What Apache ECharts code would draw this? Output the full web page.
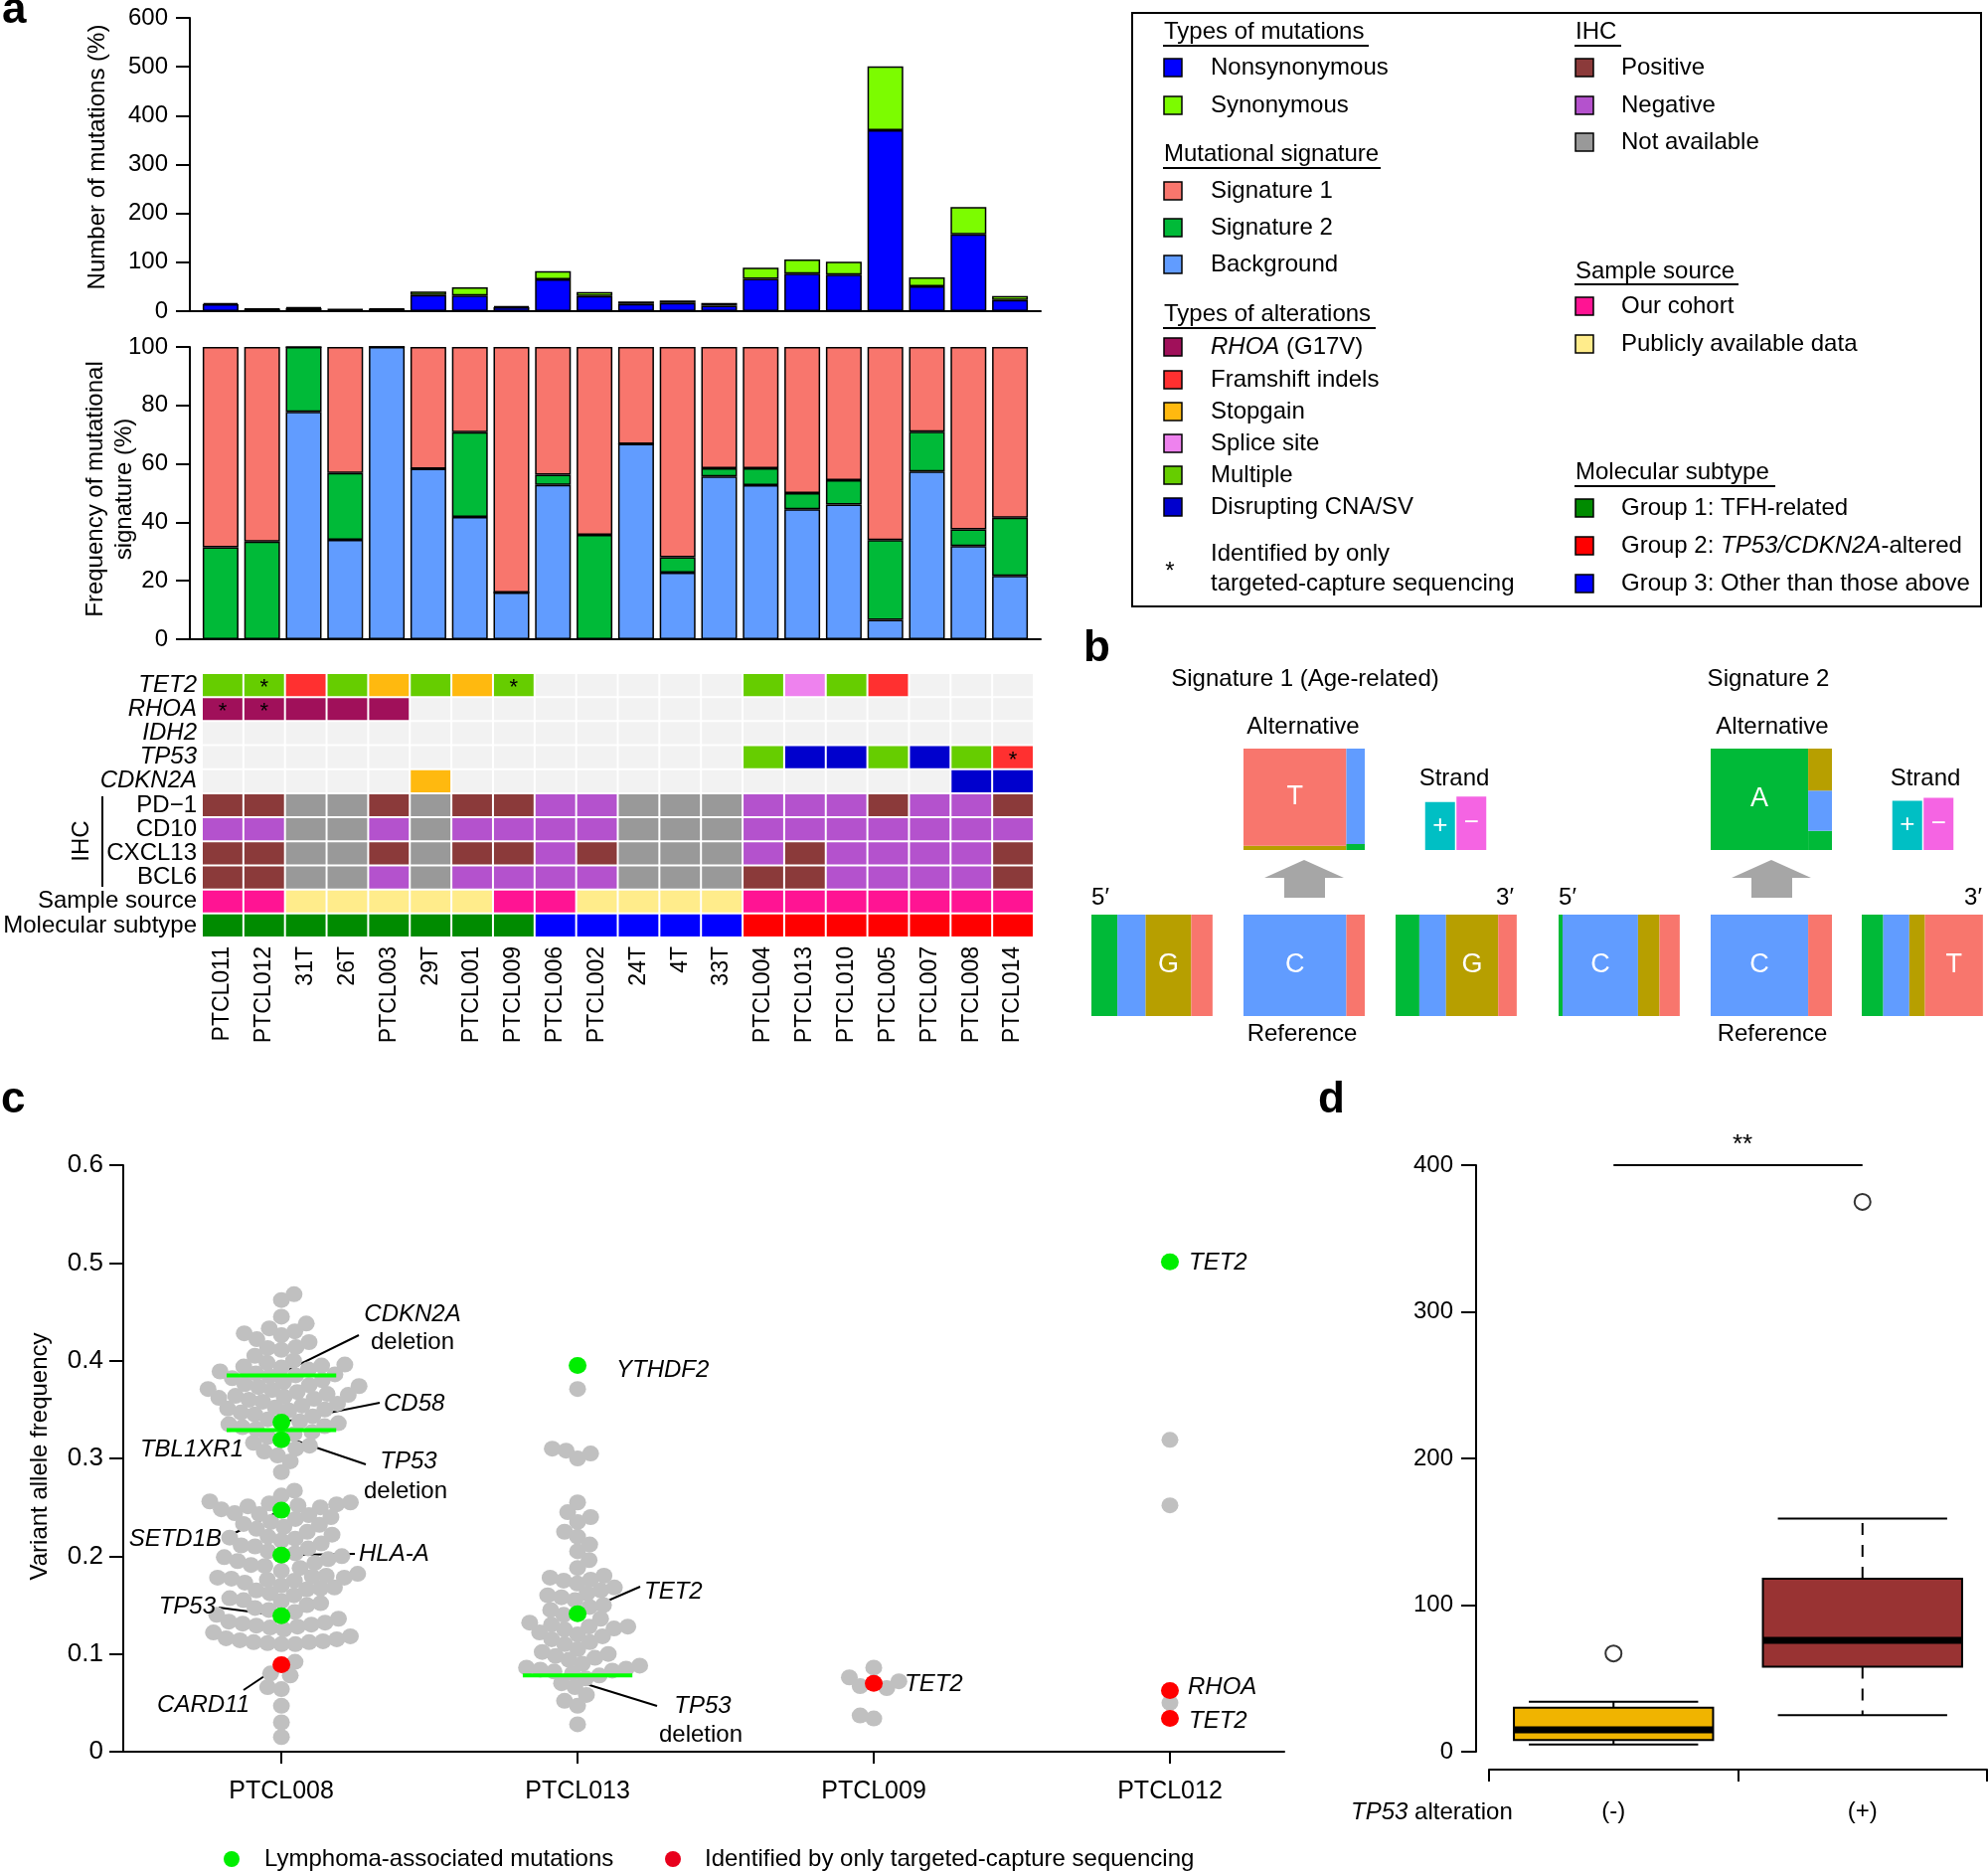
<!DOCTYPE html>
<html><head><meta charset="utf-8">
<script src="https://cdn.jsdelivr.net/npm/echarts@6.0.0/dist/echarts.min.js"></script>
<style>html,body{margin:0;padding:0;background:#fff}#chart{width:2000px;height:1882px}</style>
</head><body><div id="chart"></div>
<script>
// ================= DATA =================
// ---- panel a ----
const samples = ['PTCL011','PTCL012','31T','26T','PTCL003','29T','PTCL001','PTCL009','PTCL006','PTCL002','24T','4T','33T','PTCL004','PTCL013','PTCL010','PTCL005','PTCL007','PTCL008','PTCL014'];
const nonsynonymous = [14,4,6,3,4,33,32,8,65,31,15,17,11,66,77,75,370,51,157,23];
const synonymous    = [3,1,2,1,1,7,17,2,17,8,5,5,6,23,29,26,131,18,56,8];
const sigBackground = [0,0,77.8,34,100,58.3,41.8,16,52.8,0,66.8,22.8,55.7,52.7,44.5,46.1,6.6,57.4,31.9,21.7];
const sigSignature2 = [31.5,33.4,22.2,22.9,0,0,29,0,3.5,35.7,0,5.3,2.8,5.8,5.5,8.3,27.3,13.6,5.7,19.9];
const sigSignature1 = [68.5,66.6,0,43.1,0,41.7,29.2,84,43.7,64.3,33.2,71.9,41.5,41.5,50,45.6,66.1,29,62.4,58.4];
const alterationRows = ['TET2','RHOA','IDH2','TP53','CDKN2A','PD\u22121','CD10','CXCL13','BCL6','Sample source','Molecular subtype'];
const geneRows = ['TET2','RHOA','IDH2','TP53','CDKN2A'];
// codes: M multiple, F frameshift, S stopgain, P splice, R RHOA G17V, C CNA/SV, * targeted only
const rowTET2   = ['M','M*','F','M','S','M','S','M*','','','','','','M','P','M','F','','',''];
const rowRHOA   = ['R*','R*','R','R','R','','','','','','','','','','','','','','',''];
const rowIDH2   = ['','','','','','','','','','','','','','','','','','','',''];
const rowTP53   = ['','','','','','','','','','','','','','M','C','C','M','C','M','F*'];
const rowCDKN2A = ['','','','','','S','','','','','','','','','','','','','C','C'];
const rowPD1    = ['+','+','n','n','+','n','+','+','-','-','n','n','n','-','-','-','+','-','-','+'];
const rowCD10   = ['-','-','n','n','-','n','-','-','-','-','n','n','n','-','-','-','-','-','-','-'];
const rowCXCL13 = ['+','+','n','n','+','n','+','+','-','+','n','n','n','-','+','-','-','-','-','+'];
const rowBCL6   = ['+','+','n','n','-','n','-','-','-','-','n','n','n','+','+','-','-','-','-','+'];
const rowSource = ['o','o','p','p','p','p','p','o','o','p','p','p','p','o','o','o','o','o','o','o'];
const rowSubtype= ['1','1','1','1','1','1','1','1','3','3','3','3','3','2','2','2','2','2','2','2'];
// ---- panel b (fractions of A, C, G, T) ----
const sig1Upstream   = [0.214,0.233,0.376,0.176];
const sig1Reference  = [0,0.848,0,0.152];
const sig1Downstream = [0.196,0.220,0.430,0.153];
const sig1AltFromC   = [0,0,0.042,0.958];
const sig1AltFromT   = [0.059,0.941,0,0];
const sig1Strand     = [0.474,0.526];
const sig2Upstream   = [0.033,0.622,0.177,0.167];
const sig2Reference  = [0,0.804,0,0.196];
const sig2Downstream = [0.177,0.215,0.129,0.478];
const sig2AltFromC   = [1,0,0,0];
const sig2AltFromT   = [0.189,0.397,0.414,0];
const sig2Strand     = [0.485,0.515];
const strandNames = ['+','\u2212'];
// ---- panel c ----
const vafSamples = ['PTCL008','PTCL013','PTCL009','PTCL012'];
const vafPTCL008 = [0.468,0.462,0.445,0.438,0.433,0.430,0.428,0.426,0.422,0.419,0.414,0.413,0.411,0.405,0.400,0.398,0.396,0.395,0.394,0.393,0.391,0.389,0.387,0.386,0.385,0.384,0.382,0.380,0.378,0.376,0.375,0.374,0.373,0.371,0.370,0.368,0.366,0.365,0.364,0.363,0.362,0.361,0.360,0.358,0.356,0.354,0.352,0.351,0.350,0.349,0.347,0.345,0.343,0.340,0.338,0.336,0.335,0.333,0.332,0.330,0.327,0.325,0.322,0.316,0.313,0.310,0.307,0.303,0.297,0.286,
 0.267,0.262,0.256,0.255,0.254,0.253,0.252,0.251,0.250,0.248,0.244,0.243,0.242,0.240,0.238,0.235,0.233,0.232,0.230,0.228,0.225,0.222,0.220,0.219,0.218,0.216,0.213,0.211,0.210,0.208,0.205,0.203,0.200,0.199,0.197,0.195,0.193,0.191,0.190,0.188,0.185,0.182,0.180,0.179,0.178,0.178,0.177,0.176,0.175,0.173,0.170,0.168,0.167,0.166,0.165,0.162,0.160,0.157,0.155,0.154,0.152,0.150,0.147,0.145,0.143,0.140,0.136,0.133,0.132,0.131,0.130,0.129,0.128,0.127,0.125,0.122,0.118,0.116,0.115,0.114,0.113,0.112,0.112,0.111,0.110,0.110,0.092,0.080,0.078,0.066,0.064,0.047,0.030,0.015];
const vafPTCL013 = [0.371,0.310,0.308,0.305,0.300,0.255,0.245,0.240,0.235,0.225,0.220,0.212,0.205,0.196,0.188,0.180,0.178,0.176,0.175,0.172,0.168,0.165,0.162,0.160,0.158,0.155,0.150,0.148,0.145,0.140,0.136,0.132,0.130,0.128,0.128,0.126,0.125,0.122,0.120,0.118,0.115,0.112,0.110,0.105,0.102,0.100,0.098,0.096,0.094,0.090,0.088,0.086,0.085,0.084,0.083,0.082,0.080,0.078,0.075,0.070,0.066,0.058,0.052,0.047,0.028];
const vafPTCL009 = [0.086,0.076,0.072,0.067,0.065,0.037,0.034];
const vafPTCL012 = [0.319,0.252,0.050];
const lymphomaMutations = [[0,0.337,'CD58'],[0,0.319,'TBL1XR1'],[0,0.247,'SETD1B'],[0,0.201,'HLA-A'],[0,0.139,'TP53'],[1,0.395,'YTHDF2'],[1,0.141,'TET2'],[3,0.501,'TET2']];
const targetedOnly = [[0,0.089,'CARD11'],[2,0.070,'TET2'],[3,0.0625,'RHOA'],[3,0.034,'TET2']];
const deletionLevels = [[0,0.385,'CDKN2A'],[0,0.329,'TP53'],[1,0.078,'TP53']];
// ---- panel d ----
const tp53Groups = ['(-)','(+)'];
const boxStats = [[5,8,15,30,34],[25,58,76,118,159]]; // min, Q1, median, Q3, max
const boxOutliers = [[0,67],[1,375]];
const sigLevel = 400;

// ================= STYLE / LAYOUT =================
const F = "'Liberation Sans', Arial, Helvetica, sans-serif";
const K = '#000';
const cellColors = {'':'#f2f2f2',M:'#66cd00',F:'#ff3030',S:'#ffb90f',P:'#ee82ee',R:'#a0105a',C:'#0000cd','+':'#8b3a3a','-':'#b452cd',n:'#999999',o:'#ff1493',p:'#ffec8b','1':'#008b00','2':'#ff0000','3':'#0000ff'};
const baseColors = ['#00ba38','#619cff','#b79f00','#f8766d'];
const baseLetters = ['A','C','G','T'];
const boxColors = ['#f0b400','#993333'];
const swarmSpacing = [14,14,14,12];
const axLine = {show:true, onZero:false, lineStyle:{color:K, width:2}};
const grids=[], xAxes=[], yAxes=[], series=[];
function addGrid(g){ grids.push(Object.assign({outerBoundsMode:'none', containLabel:false, show:false}, g)); return grids.length-1; }

// stacked bar block: one grid carrying the visible axes, one grid carrying the bars
function stackedBars(top, height, yMax, yInterval, layers, stackName){
  const ga = addGrid({left:191, top, width:856, height});
  xAxes.push({type:'value', gridIndex:ga, min:0, max:1, axisLine:axLine, axisTick:{show:false}, axisLabel:{show:false}, splitLine:{show:false}});
  yAxes.push({type:'value', gridIndex:ga, min:0, max:yMax, interval:yInterval, axisLine:axLine, axisTick:{show:true, length:14, lineStyle:{color:K,width:2}}, axisLabel:{color:K, fontSize:24, fontFamily:F, margin:22}, splitLine:{show:false}});
  const gb = addGrid({left:201, top, width:836, height});
  xAxes.push({type:'category', gridIndex:gb, data:samples, show:false});
  yAxes.push({type:'value', gridIndex:gb, min:0, max:yMax, show:false});
  layers.forEach(([arr,col])=>{
    series.push({type:'bar', xAxisIndex:gb, yAxisIndex:gb, stack:stackName, barWidth:36, data:arr, itemStyle:{color:col, borderColor:K, borderWidth:1.5}});
  });
}
stackedBars(18, 295, 600, 100, [[nonsynonymous,'#0000ff'],[synonymous,'#7cfc00']], 'mut');
stackedBars(349, 294, 100, 20, [[sigBackground,'#619cff'],[sigSignature2,'#00ba38'],[sigSignature1,'#f8766d']], 'sig');

// ---------- panel a: heatmap ----------
const gHeat = addGrid({left:203, top:677, width:837, height:266});
xAxes.push({type:'category', gridIndex:gHeat, data:samples, axisLine:{show:false}, axisTick:{show:false}, axisLabel:{interval:0, rotate:90, fontSize:23, fontFamily:F, color:K, margin:9}, splitLine:{show:false}});
yAxes.push({type:'category', gridIndex:gHeat, data:alterationRows, inverse:true, axisLine:{show:false}, axisTick:{show:false}, splitLine:{show:false},
  axisLabel:{interval:0, fontSize:24, fontFamily:F, color:K, margin:5, formatter:v=>geneRows.includes(v)?'{i|'+v+'}':v, rich:{i:{fontStyle:'italic', fontSize:24, fontFamily:F, color:K}}}});
const heatRows = [rowTET2,rowRHOA,rowIDH2,rowTP53,rowCDKN2A,rowPD1,rowCD10,rowCXCL13,rowBCL6,rowSource,rowSubtype];
const heatData=[], heatFill=[];
heatRows.forEach((row,r)=>row.forEach((code,c)=>{ const star=code.endsWith('*'); heatData.push([c,r,star?1:0]); heatFill.push(cellColors[code.replace('*','')]); }));
series.push({type:'custom', xAxisIndex:gHeat, yAxisIndex:gHeat, encode:{x:0,y:1}, data:heatData,
  renderItem(params, api){
    const c = api.coord([api.value(0), api.value(1)]); const s = api.size([1,1]);
    const ch=[{type:'rect', shape:{x:c[0]-s[0]/2+1, y:c[1]-s[1]/2+1, width:s[0]-2, height:s[1]-2}, style:{fill:heatFill[params.dataIndex]}}];
    if (api.value(2)) ch.push({type:'text', x:c[0], y:c[1]+3, style:{text:'*', fontSize:22, fontFamily:F, fill:K, align:'center', verticalAlign:'middle'}});
    return {type:'group', children:ch};
  }});

// ---------- panel b ----------
function argmax(a){ let m=0; a.forEach((v,i)=>{ if(v>a[m]) m=i; }); return m; }
function flankCells(fr){ let x=0; const out=[]; const m=argmax(fr); fr.forEach((f,i)=>{ if(f>0) out.push([x,x+f,0,1,i,i===m?1:0]); x+=f; }); return out; }
function altCells(refFr, altByRef){ let x=0; const out=[]; const rm=argmax(refFr);
  refFr.forEach((w,ri)=>{ if(w>0){ let y=0; const alt=altByRef[ri]; const am=argmax(alt); alt.forEach((h,ai)=>{ if(h>0) out.push([x,x+w,y,y+h,ai,(ri===rm&&ai===am)?1:0]); y+=h; }); } x+=w; });
  return out; }
function mosaicRender(params, api){
  const p0 = api.coord([api.value(0), api.value(3)]); const p1 = api.coord([api.value(1), api.value(2)]);
  const bi = api.value(4);
  const ch=[{type:'rect', shape:{x:p0[0], y:p0[1], width:p1[0]-p0[0], height:p1[1]-p0[1]}, style:{fill:baseColors[bi]}}];
  if (api.value(5)) ch.push({type:'text', x:(p0[0]+p1[0])/2, y:(p0[1]+p1[1])/2, style:{text:baseLetters[bi], fill:'#fff', fontSize:27, fontFamily:F, align:'center', verticalAlign:'middle'}});
  return {type:'group', children:ch};
}
const bBlocks = [
  [1098,920,flankCells(sig1Upstream)],[1251,920,flankCells(sig1Reference)],[1404,920,flankCells(sig1Downstream)],
  [1251,753,altCells(sig1Reference,[null,sig1AltFromC,null,sig1AltFromT])],
  [1568,920,flankCells(sig2Upstream)],[1721,920,flankCells(sig2Reference)],[1873,920,flankCells(sig2Downstream)],
  [1721,753,altCells(sig2Reference,[null,sig2AltFromC,null,sig2AltFromT])]
];
bBlocks.forEach(([l,t,cells])=>{
  const gi = addGrid({left:l, top:t, width:122, height:102});
  xAxes.push({type:'value', gridIndex:gi, min:0, max:1, show:false});
  yAxes.push({type:'value', gridIndex:gi, min:0, max:1, show:false});
  series.push({type:'custom', xAxisIndex:gi, yAxisIndex:gi, encode:{x:[0,1], y:[2,3]}, data:cells, renderItem:mosaicRender});
});
[[1433,sig1Strand],[1903,sig2Strand]].forEach(([l,vals])=>{
  const gi = addGrid({left:l, top:753, width:63, height:102});
  xAxes.push({type:'category', gridIndex:gi, data:strandNames, show:false});
  yAxes.push({type:'value', gridIndex:gi, min:0, max:1, show:false});
  series.push({type:'bar', xAxisIndex:gi, yAxisIndex:gi, barWidth:30, data:vals.map((v,i)=>({value:v, itemStyle:{color:i===0?'#00bfc4':'#f564e3'}})),
    label:{show:true, position:'inside', formatter:p=>p.name, color:'#fff', fontSize:26, fontFamily:F}});
});

// ---------- panel c ----------
const C_GRID = {left:124, top:1172, width:1168, height:590};
const cXMin=-0.534, cXMax=3.386, cYMax=0.6;
const gC = addGrid(C_GRID);
xAxes.push({type:'value', gridIndex:gC, min:cXMin, max:cXMax, axisLine:axLine, splitLine:{show:false},
  axisTick:{show:true, length:12, customValues:[0,1,2,3], lineStyle:{color:K,width:2}},
  axisLabel:{show:true, customValues:[0,1,2,3], formatter:v=>vafSamples[Math.round(v)], fontSize:25, fontFamily:F, color:K, margin:28}});
yAxes.push({type:'value', gridIndex:gC, min:0, max:cYMax, interval:0.1, axisLine:axLine, splitLine:{show:false},
  axisTick:{show:true, length:14, lineStyle:{color:K,width:2}},
  axisLabel:{formatter:v=>v===0?'0':v.toFixed(1), fontSize:26, fontFamily:F, color:K, margin:20}});
const pxPerX = C_GRID.width/(cXMax-cXMin), pxPerY = C_GRID.height/cYMax;
function swarm(points, d){
  const order = points.map((p,i)=>i).sort((a,b)=>(points[a].pri-points[b].pri)||(points[a].v-points[b].v));
  const placed=[], out=new Array(points.length);
  order.forEach((i,k)=>{
    const y = points[i].v*pxPerY;
    const near = placed.filter(p=>Math.abs(p.y-y)<d);
    const cands=[0];
    near.forEach(p=>{ const dx=Math.sqrt(d*d-(p.y-y)*(p.y-y)); cands.push(p.x+dx, p.x-dx); });
    const pref = k%2 ? 1 : -1;
    cands.sort((a,b)=>{ const c=Math.abs(a)-Math.abs(b); if(Math.abs(c)>1e-9) return c; return Math.sign(a)===pref?-1:1; });
    const ok = c=>near.every(p=>(p.x-c)*(p.x-c)+(p.y-y)*(p.y-y) >= d*d-1e-6);
    const x = cands.find(ok); out[i]= x===undefined?0:x; placed.push({x:out[i], y});
  });
  return out;
}
const grayPts=[], greenPts=[], redPts=[];
[vafPTCL008,vafPTCL013,vafPTCL009,vafPTCL012].forEach((gray,cat)=>{
  const pts=[];
  lymphomaMutations.forEach((m,j)=>{ if(m[0]===cat) pts.push({v:m[1], pri:0, kind:'g', j}); });
  targetedOnly.forEach((m,j)=>{ if(m[0]===cat) pts.push({v:m[1], pri:0, kind:'r', j}); });
  gray.forEach(v=>pts.push({v, pri:1, kind:'x'}));
  const off = swarm(pts, swarmSpacing[cat]);
  pts.forEach((p,i)=>{ const x = cat + off[i]/pxPerX;
    if(p.kind==='x') grayPts.push([x,p.v]); else if(p.kind==='g') greenPts[p.j]=[x,p.v]; else redPts[p.j]=[x,p.v]; });
});
series.push({type:'scatter', xAxisIndex:gC, yAxisIndex:gC, symbol:'circle', symbolSize:[17,16], data:grayPts, itemStyle:{color:'#c0c0c0', opacity:1}, z:2});
series.push({type:'custom', xAxisIndex:gC, yAxisIndex:gC, encode:{x:0,y:1}, data:deletionLevels.map(d=>[d[0],d[1]]), z:3,
  renderItem(params, api){ const a=api.coord([api.value(0)-0.185, api.value(1)]), b=api.coord([api.value(0)+0.185, api.value(1)]);
    return {type:'line', shape:{x1:a[0],y1:a[1],x2:b[0],y2:b[1]}, style:{stroke:'#00ff00', lineWidth:4}}; }});
series.push({type:'scatter', xAxisIndex:gC, yAxisIndex:gC, symbol:'circle', symbolSize:[18,17], data:greenPts, itemStyle:{color:'#00ee00', opacity:1}, z:4});
series.push({type:'scatter', xAxisIndex:gC, yAxisIndex:gC, symbol:'circle', symbolSize:[18,17], data:redPts, itemStyle:{color:'#ff0000', opacity:1}, z:4});

// ---------- panel d ----------
const gD = addGrid({left:1498, top:1172, width:501, height:590});
xAxes.push({type:'category', gridIndex:gD, data:tp53Groups, offset:18, axisLine:{show:true, onZero:false, lineStyle:{color:K,width:2}}, axisTick:{show:true, length:12, lineStyle:{color:K,width:2}}, axisLabel:{fontSize:24, fontFamily:F, color:K, margin:30}, splitLine:{show:false}});
yAxes.push({type:'value', gridIndex:gD, min:0, max:400, interval:100, offset:13, axisLine:axLine, axisTick:{show:true, length:15, lineStyle:{color:K,width:2}}, axisLabel:{fontSize:24, fontFamily:F, color:K, margin:23}, splitLine:{show:false}});
series.push({type:'custom', xAxisIndex:gD, yAxisIndex:gD, encode:{x:0, y:[1,2,3,4,5]}, data:boxStats.map((s,i)=>[i].concat(s)),
  renderItem(params, api){
    const cat=api.value(0); const w=api.size([1,0])[0]*0.8; const cw=w*0.85;
    const cx=api.coord([cat,0])[0]; const y=k=>api.coord([cat, api.value(k)])[1];
    const ls={stroke:K, lineWidth:2};
    return {type:'group', children:[
      {type:'line', shape:{x1:cx,y1:y(4),x2:cx,y2:y(5)}, style:Object.assign({lineDash:[12,10]},ls)},
      {type:'line', shape:{x1:cx,y1:y(2),x2:cx,y2:y(1)}, style:Object.assign({lineDash:[12,10]},ls)},
      {type:'line', shape:{x1:cx-cw/2,y1:y(5),x2:cx+cw/2,y2:y(5)}, style:ls},
      {type:'line', shape:{x1:cx-cw/2,y1:y(1),x2:cx+cw/2,y2:y(1)}, style:ls},
      {type:'rect', shape:{x:cx-w/2,y:y(4),width:w,height:y(2)-y(4)}, style:{fill:boxColors[params.dataIndex], stroke:K, lineWidth:2}},
      {type:'line', shape:{x1:cx-w/2,y1:y(3),x2:cx+w/2,y2:y(3)}, style:{stroke:K, lineWidth:7}}
    ]};
  }});
series.push({type:'scatter', xAxisIndex:gD, yAxisIndex:gD, symbol:'emptyCircle', symbolSize:16, data:boxOutliers, itemStyle:{color:K, borderWidth:2.5}});
series.push({type:'line', xAxisIndex:gD, yAxisIndex:gD, symbol:'none', clip:false, data:[[0,sigLevel],[1,sigLevel]], lineStyle:{color:K, width:2}});

// ================= RENDER =================
const chart = echarts.init(document.getElementById('chart'), null, {renderer:'canvas', width:2000, height:1882});
chart.setOption({animation:false, backgroundColor:'#fff', grid:grids, xAxis:xAxes, yAxis:yAxes, series:series});

// ---------- annotations / legend (graphic) ----------
const G=[];
const RICH = {i:{fontStyle:'italic', fontSize:24, fontFamily:F, fill:K, color:K}, n:{fontSize:24, fontFamily:F, fill:K, color:K}};
function txt(x,y,text,o={}){ G.push({type:'text', x, y, rotation:o.rot||0, silent:true, z:10,
  style:{text, fontSize:o.size||24, fontFamily:F, fontStyle:o.italic?'italic':'normal', fontWeight:o.bold?'bold':'normal', fill:o.color||K, align:o.align||'left', verticalAlign:'middle', rich:o.rich}}); }
function seg(x1,y1,x2,y2,w,z){ G.push({type:'line', silent:true, z:z===undefined?10:z, shape:{x1,y1,x2,y2}, style:{stroke:K, lineWidth:w||2}}); }
function sq(cx,cy,fill){ G.push({type:'rect', silent:true, z:10, shape:{x:cx-9,y:cy-9,width:18,height:18}, style:{fill, stroke:K, lineWidth:1.5}}); }
// panel letters
txt(2,11,'a',{size:44,bold:true}); txt(1090,653,'b',{size:44,bold:true}); txt(1,1107,'c',{size:44,bold:true}); txt(1326,1107,'d',{size:44,bold:true});
// panel a axis titles
txt(98,158,'Number of mutations (%)',{rot:Math.PI/2, align:'center'});
txt(96,492,'Frequency of mutational',{rot:Math.PI/2, align:'center'});
txt(125,492,'signature (%)',{rot:Math.PI/2, align:'center'});
seg(103,801,103,892,2); txt(82,846,'IHC',{rot:Math.PI/2, align:'center'});
// legend box
G.push({type:'rect', silent:true, z:10, shape:{x:1139,y:13,width:854,height:597}, style:{fill:null, stroke:K, lineWidth:2}});
const LX=1171, LT=1218, RX=1585, RT=1631;
txt(LX,32,'Types of mutations'); seg(1170,46,1377,46);
sq(1180,68,'#0000ff'); txt(LT,68,'Nonsynonymous');
sq(1180,106,'#7cfc00'); txt(LT,106,'Synonymous');
txt(LX,155,'Mutational signature'); seg(1170,169,1389,169);
sq(1180,192,'#f8766d'); txt(LT,192,'Signature 1');
sq(1180,229,'#00ba38'); txt(LT,229,'Signature 2');
sq(1180,266,'#619cff'); txt(LT,266,'Background');
txt(LX,316,'Types of alterations'); seg(1170,330,1384,330);
sq(1180,349,cellColors.R); txt(LT,349,'{i|RHOA}{n| (G17V)}',{rich:RICH});
sq(1180,382,cellColors.F); txt(LT,382,'Framshift indels');
sq(1180,414,cellColors.S); txt(LT,414,'Stopgain');
sq(1180,446,cellColors.P); txt(LT,446,'Splice site');
sq(1180,478,cellColors.M); txt(LT,478,'Multiple');
sq(1180,510,cellColors.C); txt(LT,510,'Disrupting CNA/SV');
txt(1177,575,'*',{align:'center'}); txt(LT,557,'Identified by only'); txt(LT,587,'targeted-capture sequencing');
txt(RX,32,'IHC'); seg(1584,46,1631,46);
sq(1594,68,cellColors['+']); txt(RT,68,'Positive');
sq(1594,106,cellColors['-']); txt(RT,106,'Negative');
sq(1594,143,cellColors.n); txt(RT,143,'Not available');
txt(RX,273,'Sample source'); seg(1584,286,1749,286);
sq(1594,308,cellColors.o); txt(RT,308,'Our cohort');
sq(1594,346,cellColors.p); txt(RT,346,'Publicly available data');
txt(RX,475,'Molecular subtype'); seg(1584,489,1786,489);
sq(1594,511,cellColors['1']); txt(RT,511,'Group 1: TFH-related');
sq(1594,549,cellColors['2']); txt(RT,549,'{n|Group 2: }{i|TP53/CDKN2A}{n|-altered}',{rich:RICH});
sq(1594,587,cellColors['3']); txt(RT,587,'Group 3: Other than those above');
// panel b labels
txt(1313,683,'Signature 1 (Age-related)',{align:'center'}); txt(1779,683,'Signature 2',{align:'center'});
txt(1311,731,'Alternative',{align:'center'}); txt(1783,731,'Alternative',{align:'center'});
txt(1463,783,'Strand',{align:'center'}); txt(1937,783,'Strand',{align:'center'});
txt(1107,903,'5\u2032',{align:'center'}); txt(1514,903,'3\u2032',{align:'center'});
txt(1577,903,'5\u2032',{align:'center'}); txt(1985,903,'3\u2032',{align:'center'});
txt(1310,1040,'Reference',{align:'center'}); txt(1783,1040,'Reference',{align:'center'});
[1312,1782].forEach(cx=>G.push({type:'polygon', silent:true, z:10, shape:{points:[[cx,865],[cx+40,883],[cx+21,883],[cx+21,903],[cx-20,903],[cx-20,883],[cx-40,883]]}, style:{fill:'#a6a6a6'}}));
// panel c axis title and legend
txt(40,1465,'Variant allele frequency',{rot:Math.PI/2, align:'center'});
G.push({type:'circle', silent:true, z:10, shape:{cx:233,cy:1870,r:8}, style:{fill:'#00ee00'}});
txt(266,1870,'Lymphoma-associated mutations');
G.push({type:'circle', silent:true, z:10, shape:{cx:677,cy:1870,r:8}, style:{fill:'#e8001c'}});
txt(709,1870,'Identified by only targeted-capture sequencing');
// panel c annotations anchored on the plotted points
function ptPix(ref){ const [k,j]=ref; const d = k==='g'?greenPts[j]:k==='r'?redPts[j]:[deletionLevels[j][0],deletionLevels[j][1]];
  return chart.convertToPixel({gridIndex:gC}, d); }
const cAnnot = [
  {pt:['d',0], dx:4, dy:-4, from:[361,1343], t:[[415,1322,'CDKN2A','center',1],[415,1350,'deletion','center',0]]},
  {pt:['g',0], from:[382,1411], t:[[386,1412,'CD58','left',1]]},
  {pt:['d',1], dx:1, dy:6, from:[368,1473], t:[[411,1470,'TP53','center',1],[408,1500,'deletion','center',0]]},
  {pt:['g',1], t:[[245,1458,'TBL1XR1','right',1]]},
  {pt:['g',2], from:[230,1545], t:[[223,1548,'SETD1B','right',1]]},
  {pt:['g',3], from:[357,1563], t:[[361,1563,'HLA-A','left',1]]},
  {pt:['g',4], from:[220,1617], t:[[217,1616,'TP53','right',1]]},
  {pt:['r',0], from:[245,1700], t:[[251,1715,'CARD11','right',1]]},
  {pt:['g',5], t:[[620,1378,'YTHDF2','left',1]]},
  {pt:['g',6], from:[644,1596], t:[[648,1601,'TET2','left',1]]},
  {pt:['d',2], dy:6, from:[661,1716], t:[[707,1716,'TP53','center',1],[705,1745,'deletion','center',0]]},
  {pt:['r',1], t:[[910,1694,'TET2','left',1]]},
  {pt:['g',7], t:[[1196,1270,'TET2','left',1]]},
  {pt:['r',2], t:[[1195,1697,'RHOA','left',1]]},
  {pt:['r',3], t:[[1196,1731,'TET2','left',1]]}
];
cAnnot.forEach(a=>{
  if (a.from){ const p=ptPix(a.pt); seg(a.from[0],a.from[1],p[0]+(a.dx||0),p[1]+(a.dy||0),2,1); }
  a.t.forEach(([x,y,s,al,it])=>txt(x,y,s,{align:al, italic:!!it}));
});
// panel d labels
txt(1359,1823,'{i|TP53}{n| alteration}',{rich:RICH});
txt(1753,1152,'**',{align:'center', size:26});
chart.setOption({graphic:{elements:G}});
</script>
</body></html>
